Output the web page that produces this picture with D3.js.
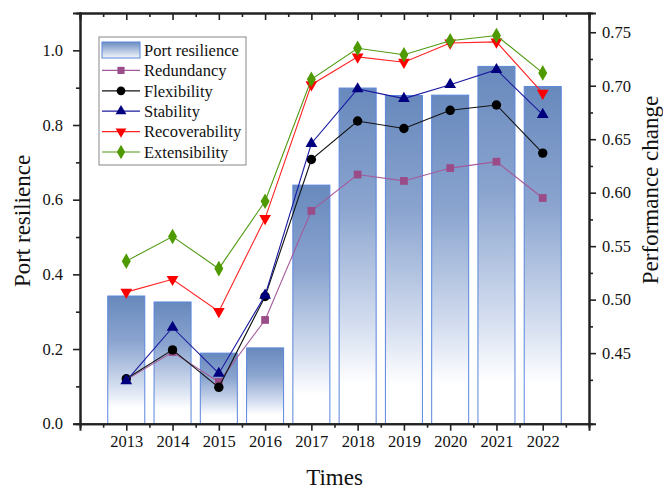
<!DOCTYPE html>
<html>
<head>
<meta charset="utf-8">
<script src="https://cdn.jsdelivr.net/npm/d3@7"></script>
<style>
  body { margin: 0; background: #fff; }
  text { font-family: "Liberation Serif", "Times New Roman", serif; fill: #111; }
</style>
</head>
<body>
<div id="chart-container"></div>
<script>
const years = [2013, 2014, 2015, 2016, 2017, 2018, 2019, 2020, 2021, 2022];
const portResilience = [0.342, 0.326, 0.189, 0.203, 0.639, 0.899, 0.879, 0.880, 0.957, 0.903];
const redundancy = [0.425, 0.451, 0.423, 0.481, 0.583, 0.617, 0.611, 0.623, 0.629, 0.595];
const flexibility = [0.426, 0.453, 0.418, 0.503, 0.631, 0.667, 0.660, 0.677, 0.682, 0.637];
const stability = [0.424, 0.474, 0.431, 0.504, 0.646, 0.697, 0.688, 0.701, 0.715, 0.673];
const recoverability = [0.507, 0.519, 0.489, 0.576, 0.701, 0.727, 0.722, 0.740, 0.741, 0.693];
const extensibility = [0.536, 0.559, 0.529, 0.592, 0.706, 0.735, 0.729, 0.742, 0.747, 0.712];

const leftTicks = [0.0, 0.2, 0.4, 0.6, 0.8, 1.0];
const rightTicks = [0.45, 0.50, 0.55, 0.60, 0.65, 0.70, 0.75];

const series = [
  { name: "Redundancy", values: redundancy, line: "#a45a9a", fill: "#9a4c88", symbol: d3.symbolSquare, size: 60, rot: 0 },
  { name: "Flexibility", values: flexibility, line: "#111111", fill: "#000000", symbol: d3.symbolCircle, size: 70, rot: 0 },
  { name: "Stability", values: stability, line: "#1a1aa0", fill: "#00007f", symbol: d3.symbolTriangle, size: 60, rot: 0 },
  { name: "Recoverability", values: recoverability, line: "#ff2020", fill: "#ff0000", symbol: d3.symbolTriangle, size: 60, rot: 180 },
  { name: "Extensibility", values: extensibility, line: "#4f9a10", fill: "#4f9a00", symbol: d3.symbolDiamond, size: 70, rot: 0 }
];

const margin = { top: 13, right: 74, bottom: 66.3, left: 80 };
const width = 663 - margin.left - margin.right;
const height = 490 - margin.top - margin.bottom;

const x = d3.scaleLinear().domain([2012, 2023]).range([0, width]);
const y = d3.scaleLinear().domain([0, 1.1]).range([height, 0]);
const y2 = d3.scaleLinear().domain([0.384, 0.768]).range([height, 0]);

const root = d3.select("#chart-container")
  .append("svg")
  .attr("width", 663)
  .attr("height", 490);

const defs = root.append("defs");
const grad = defs.append("linearGradient")
  .attr("id", "barGrad")
  .attr("x1", 0).attr("y1", 0).attr("x2", 0).attr("y2", 1);
grad.append("stop").attr("offset", "0%").attr("stop-color", "#6889bd");
grad.append("stop").attr("offset", "35%").attr("stop-color", "#8aa4cf");
grad.append("stop").attr("offset", "70%").attr("stop-color", "#d3ddef");
grad.append("stop").attr("offset", "88%").attr("stop-color", "#ffffff");
grad.append("stop").attr("offset", "100%").attr("stop-color", "#ffffff");

const svg = root.append("g")
  .attr("transform", `translate(${margin.left}, ${margin.top})`);

// bars
const barW = x(2012.8) - x(2012);
svg.selectAll(".bar")
  .data(portResilience)
  .join("rect")
  .attr("class", "bar")
  .attr("x", (d, i) => x(years[i]) - barW / 2)
  .attr("y", d => y(d))
  .attr("width", barW)
  .attr("height", d => height - y(d))
  .attr("fill", "url(#barGrad)")
  .attr("stroke", "#5a86dc")
  .attr("stroke-width", 1);

// lines + markers
series.forEach(s => {
  const line = d3.line()
    .x((d, i) => x(years[i]))
    .y(d => y2(d));
  svg.append("path")
    .datum(s.values)
    .attr("d", line)
    .attr("fill", "none")
    .attr("stroke", s.line)
    .attr("stroke-width", 1.1);
  svg.selectAll(null)
    .data(s.values)
    .join("path")
    .attr("d", d3.symbol().type(s.symbol).size(s.size))
    .attr("transform", (d, i) => `translate(${x(years[i])},${y2(d)}) rotate(${s.rot})`)
    .attr("fill", s.fill);
});

// axes
const axisColor = "#222";
function styleAxis(g) {
  g.select(".domain").attr("stroke", axisColor).attr("stroke-width", 2);
  g.selectAll(".tick line").attr("stroke", axisColor).attr("stroke-width", 1.6);
  g.selectAll(".tick text").attr("font-size", 16.5).attr("font-family", "Liberation Serif, serif").attr("fill", "#111");
}
const halfYears = d3.range(2012.5, 2023, 1);

// minor ticks first
svg.append("g").attr("transform", `translate(0,${height})`)
  .call(d3.axisBottom(x).tickValues(halfYears).tickSize(4).tickFormat(""))
  .call(styleAxis);
svg.append("g")
  .call(d3.axisTop(x).tickValues(halfYears).tickSize(-4).tickFormat(""))
  .call(styleAxis);
svg.append("g")
  .call(d3.axisLeft(y).tickValues(d3.range(0.1, 1.1, 0.2)).tickSize(4).tickFormat(""))
  .call(styleAxis);
svg.append("g").attr("transform", `translate(${width},0)`)
  .call(d3.axisRight(y2).tickValues(d3.range(0.425, 0.77, 0.05)).tickSize(4).tickFormat(""))
  .call(styleAxis);

// major ticks
svg.append("g").attr("transform", `translate(0,${height})`)
  .call(d3.axisBottom(x).tickValues(years).tickSize(7).tickPadding(5).tickFormat(d3.format("d")))
  .call(styleAxis);
svg.append("g")
  .call(d3.axisTop(x).tickValues(years).tickSize(-7).tickFormat(""))
  .call(styleAxis);
svg.append("g")
  .call(d3.axisLeft(y).tickValues(leftTicks).tickSize(7).tickPadding(10).tickFormat(d3.format(".1f")))
  .call(styleAxis);
svg.append("g").attr("transform", `translate(${width},0)`)
  .call(d3.axisRight(y2).tickValues(rightTicks).tickSize(7).tickPadding(6).tickFormat(d3.format(".2f")))
  .call(styleAxis);

// axis titles
root.append("text")
  .attr("transform", "translate(23,221) rotate(-90)")
  .attr("text-anchor", "middle")
  .attr("dy", "0.32em")
  .attr("font-size", 23)
  .text("Port resilience");
root.append("text")
  .attr("transform", "translate(651,190) rotate(-90)")
  .attr("text-anchor", "middle")
  .attr("dy", "0.32em")
  .attr("font-size", 23)
  .text("Performance change");
root.append("text")
  .attr("x", 334.5)
  .attr("y", 485)
  .attr("text-anchor", "middle")
  .attr("font-size", 23)
  .text("Times");

// legend
const legend = root.append("g").attr("transform", "translate(99,37)");
legend.append("rect")
  .attr("width", 147).attr("height", 128)
  .attr("fill", "#fff").attr("stroke", "#888").attr("stroke-width", 1);
const rowH = 20.4;
const legGrad = defs.append("linearGradient")
  .attr("id", "legGrad")
  .attr("x1", 0).attr("y1", 0).attr("x2", 0).attr("y2", 1);
legGrad.append("stop").attr("offset", "0%").attr("stop-color", "#6b8cc0");
legGrad.append("stop").attr("offset", "100%").attr("stop-color", "#f4f7fc");
legend.append("rect")
  .attr("x", 3).attr("y", 5).attr("width", 38).attr("height", 16)
  .attr("fill", "url(#legGrad)").attr("stroke", "#5a86dc");
legend.append("text")
  .attr("x", 45).attr("y", 13).attr("dy", "0.35em")
  .attr("font-size", 16.5)
  .text("Port resilience");
series.forEach((s, i) => {
  const cy = 13 + rowH * (i + 1);
  legend.append("line")
    .attr("x1", 3).attr("x2", 41).attr("y1", cy).attr("y2", cy)
    .attr("stroke", s.line).attr("stroke-width", 1.2);
  legend.append("path")
    .attr("d", d3.symbol().type(s.symbol).size(s.size * 0.85))
    .attr("transform", `translate(22,${cy}) rotate(${s.rot})`)
    .attr("fill", s.fill);
  legend.append("text")
    .attr("x", 45).attr("y", cy).attr("dy", "0.35em")
    .attr("font-size", 16.5)
    .text(s.name);
});
</script>
</body>
</html>
